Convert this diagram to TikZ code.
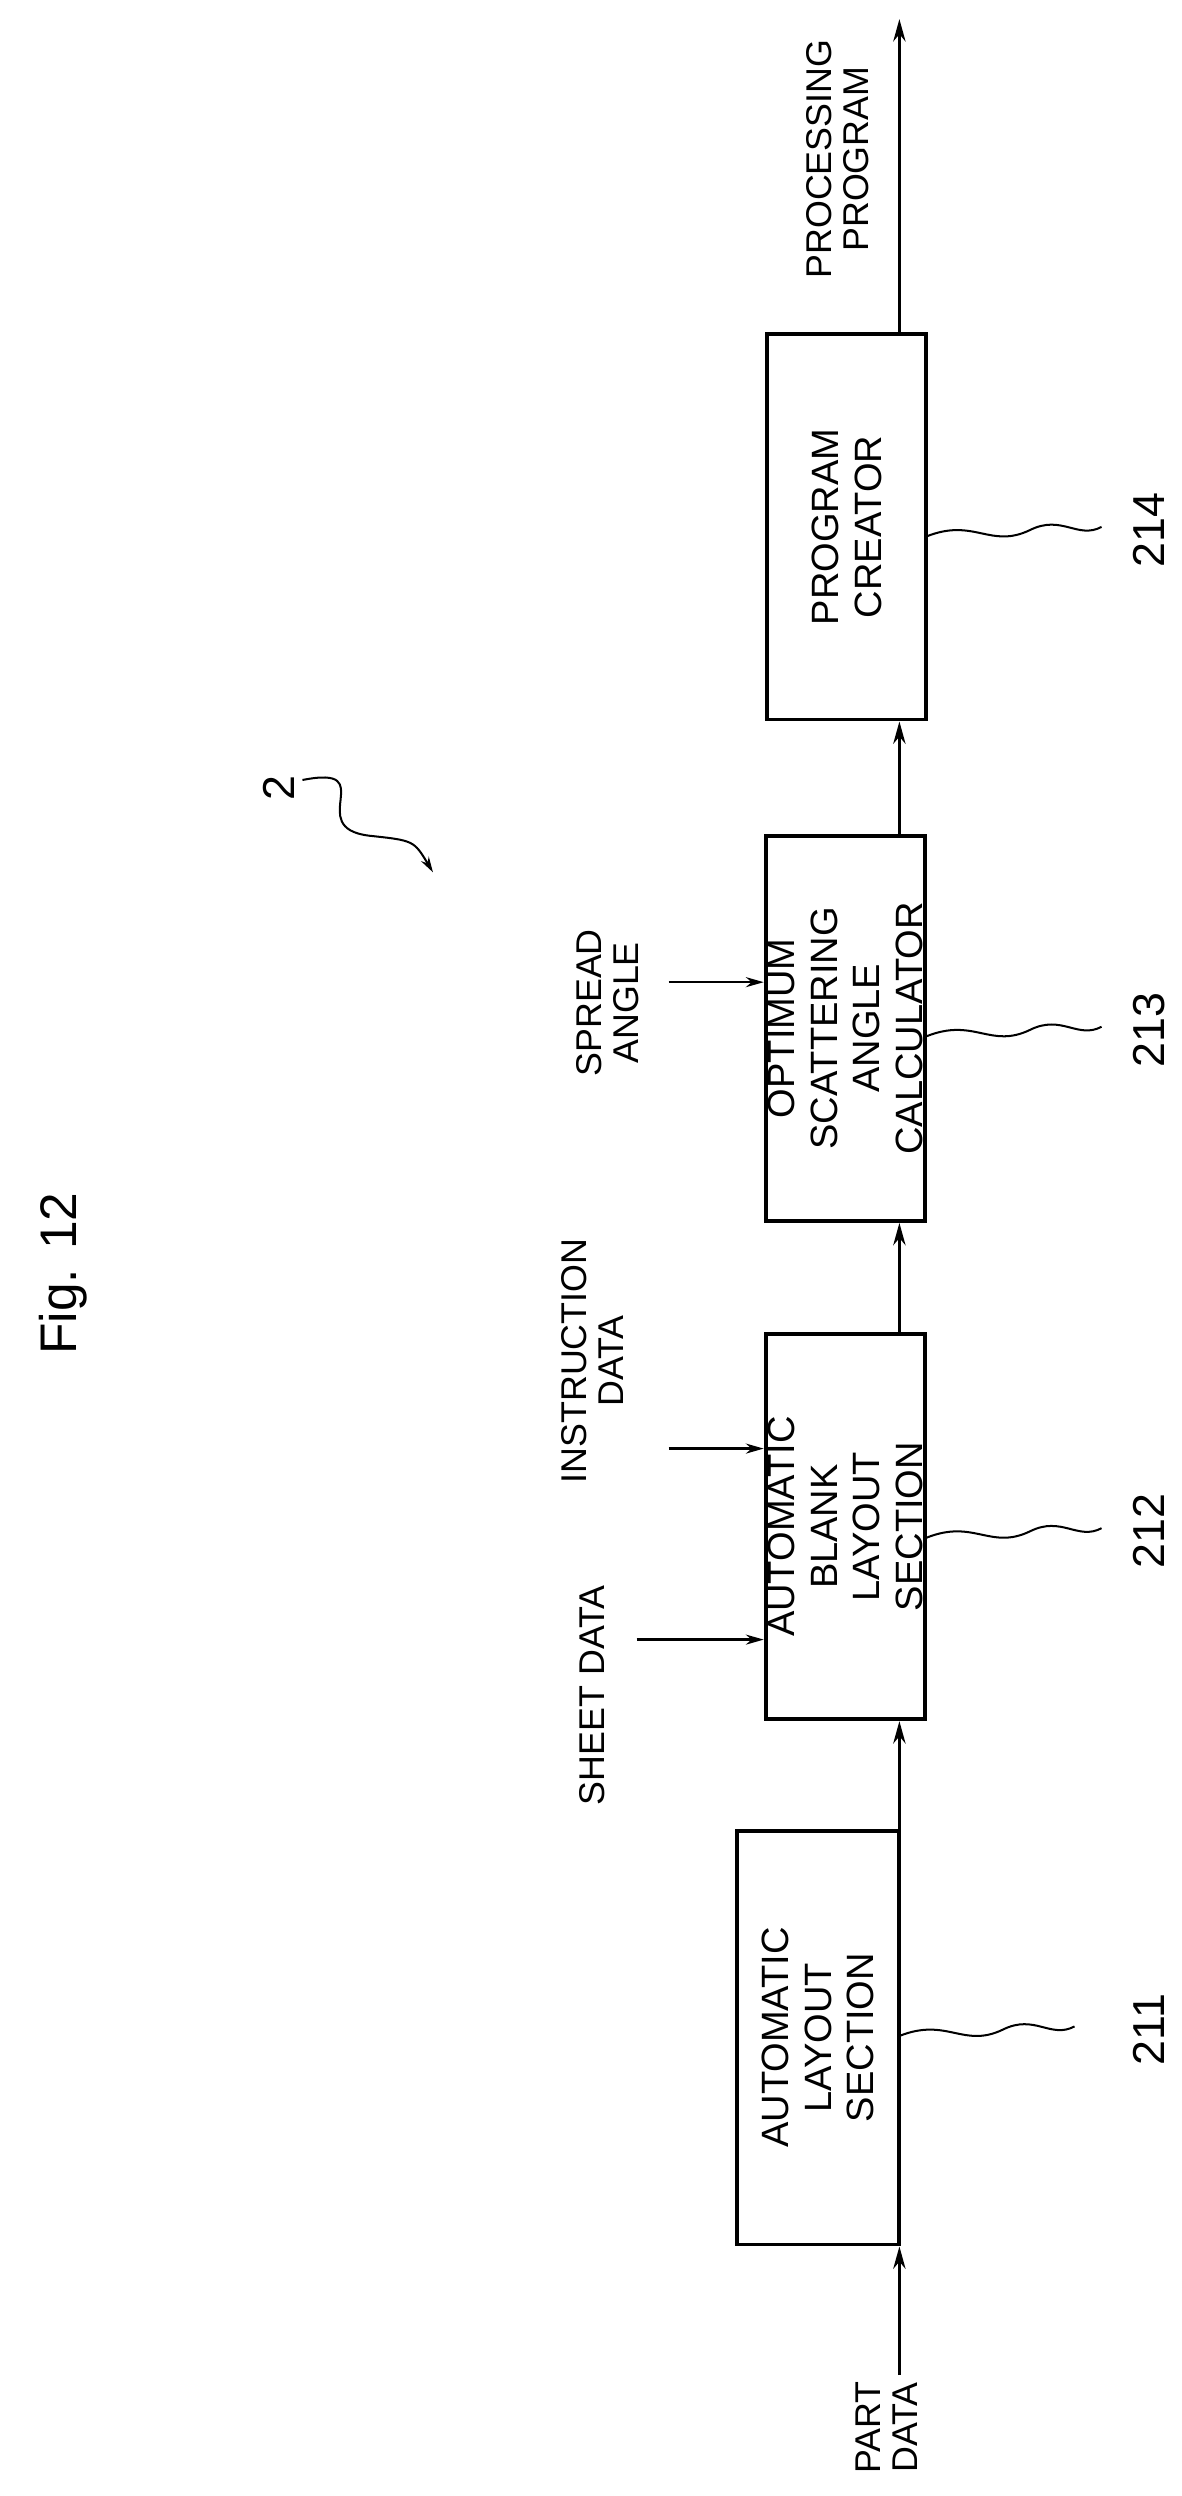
\documentclass[tikz,border=0pt]{standalone}
\usepackage{fontspec}
\setmainfont{Liberation Sans}
\usetikzlibrary{arrows.meta}
\begin{document}
\begin{tikzpicture}[x=0.05cm,y=-0.05cm,
  box/.style={draw,line width=3.5pt,minimum height=5cm,minimum width=12.1cm,inner sep=0pt,rotate=90,align=center,
    font=\fontsize{34}{38}\selectfont},
  lbl/.style={rotate=90,align=center,font=\fontsize{32}{33}\selectfont,inner sep=0pt},
  num/.style={rotate=90,font=\fontsize{40}{40}\selectfont,inner sep=0pt},
  ar/.style={line width=2.6pt,-{Stealth[length=20pt,width=11pt]}},
  sar/.style={line width=2pt,-{Stealth[length=16pt,width=9pt]}},
  sq/.style={line width=1.8pt}]
\useasboundingbox (0,0) rectangle (742,1568);
\node[box,minimum height=5.1cm,minimum width=13cm] (b1) at (514,1280) {AUTOMATIC\\LAYOUT\\SECTION};
\node[box] (b2) at (531,959) {AUTOMATIC\\BLANK\\LAYOUT\\SECTION};
\node[box] (b3) at (531,646) {OPTIMUM\\SCATTERING\\ANGLE\\CALCULATOR};
\node[box] (b4) at (532,331) {PROGRAM\\CREATOR};
\coordinate (pin) at (565,1492);
\coordinate (pout) at (565,12);
\draw[ar] (pin) -- (pin|-b1.west);
\draw[ar] (b1.east-|565,0) -- (b2.west-|565,0);
\draw[ar] (b2.east-|565,0) -- (b3.west-|565,0);
\draw[ar] (b3.east-|565,0) -- (b4.west-|565,0);
\draw[ar] (b4.east-|565,0) -- (pout);
\node[lbl] (pd) at (557,1525) {PART\\DATA};
\node[lbl] (sd) at (372,1065) {SHEET DATA};
\node[lbl] (id) at (372,855) {INSTRUCTION\\DATA};
\node[lbl] (sa) at (382,630) {SPREAD\\ANGLE};
\node[lbl] (pp) at (526,100) {PROCESSING\\PROGRAM};
\coordinate (c1) at (400,1030);
\coordinate (c2) at (420,910);
\coordinate (c3) at (420,617);
\draw[sar] (c1) -- (c1-|b2.north);
\draw[sar] (c2) -- (c2-|b2.north);
\draw[sar] (c3) -- (c3-|b3.north);
\node[rotate=90,font=\fontsize{46}{46}\selectfont] (fig) at (40,800) {Fig. 12};
\node[num] (n2) at (175,495) {2};
\coordinate (t2) at (272,548);
\draw[sq,-{Stealth[length=14pt,width=8pt]}] (190,490) .. controls (240,480) and (190,520) .. (232,525) .. controls (260,528) .. (t2);
\foreach \n/\y/\xb in {211/1275/565,212/962/582,213/647/582,214/333/582}{
  \node[num] (l\n) at (722,\y) {\n};
  \draw[sq] (\xb,\y+4) .. controls (\xb+30,\y-8) and (\xb+40,\y+12) .. (\xb+65,\y) .. controls (\xb+85,\y-10) and (\xb+95,\y+6) .. (\xb+110,\y-2);
}
\end{tikzpicture}
\end{document}
